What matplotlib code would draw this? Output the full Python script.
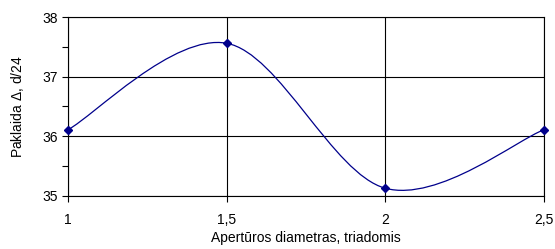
import numpy as np
import matplotlib
matplotlib.use("Agg")
import matplotlib.pyplot as plt
from matplotlib.path import Path
from matplotlib.patches import PathPatch

# data
x = [1.0, 1.5, 2.0, 2.5]
y = [36.11, 37.56, 35.13, 36.11]
xticks = [1, 1.5, 2, 2.5]
xticklabels = ["1", "1,5", "2", "2,5"]
yticks = [35, 36, 37, 38]

plt.rcParams['font.family'] = ['Liberation Sans', 'DejaVu Sans']
plt.rcParams['font.size'] = 10
plt.rcParams['mathtext.fontset'] = 'custom'
plt.rcParams['mathtext.it'] = 'Liberation Sans:italic'
plt.rcParams['mathtext.rm'] = 'Liberation Sans'

fig = plt.figure(figsize=(5.55, 2.49), dpi=100)
ax = fig.add_axes([0.1225, 0.2129, 0.8575, 0.7188])

# excel-style smoothed line (bezier through the points)
pts = np.column_stack([x, y])
ext = np.vstack([pts[0], pts, pts[-1]])
verts = [tuple(pts[0])]
codes = [Path.MOVETO]
for i in range(len(pts) - 1):
    p0, p1, p2, p3 = ext[i], ext[i + 1], ext[i + 2], ext[i + 3]
    c1 = p1 + (p2 - p0) / 6.0
    c2 = p2 - (p3 - p1) / 6.0
    verts += [tuple(c1), tuple(c2), tuple(p2)]
    codes += [Path.CURVE4] * 3
ax.add_patch(PathPatch(Path(verts, codes), facecolor='none', edgecolor='#00008B', lw=0.9, zorder=3))
ax.plot(x, y, linestyle='none', marker='D', color='#00008B', markersize=4.5, zorder=4, clip_on=False)

ax.set_xlim(1, 2.5)
ax.set_ylim(35, 38)
ax.set_xticks(xticks)
ax.set_xticklabels(xticklabels)
ax.set_yticks(yticks)
ax.set_yticks([35.5, 36.5, 37.5], minor=True)
ax.grid(True, which='major', color='black', lw=0.8)
ax.tick_params(which='both', direction='out', length=4, width=0.8, colors='black')
ax.tick_params(axis='x', pad=8)
ax.tick_params(axis='y', pad=3)
for s in ax.spines.values():
    s.set_linewidth(0.8)
ax.set_xlabel("Apertūros diametras, triadomis", labelpad=3)
ax.set_ylabel(r"Paklaida $\mathit{Δ}$, d/24", labelpad=12)

fig.savefig("out.png", dpi=100)
